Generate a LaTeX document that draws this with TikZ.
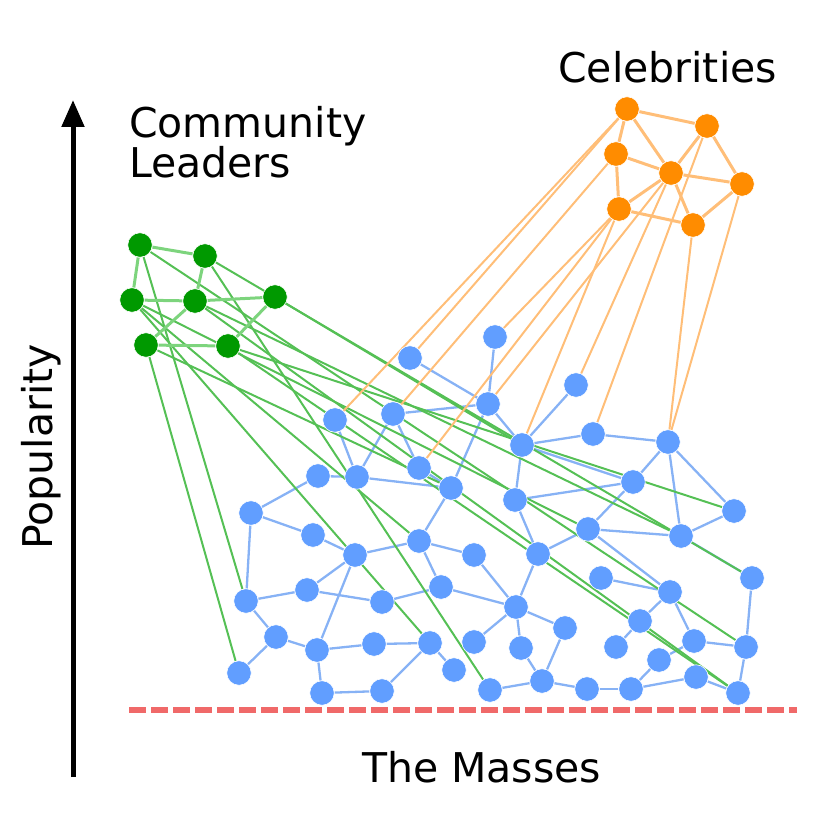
\documentclass[tikz,border=0pt]{standalone}
\usepackage{fontspec}
\setmainfont{DejaVu Sans}
\usetikzlibrary{arrows.meta}
\pgfdeclarelayer{edges}
\pgfsetlayers{edges,main}
\definecolor{nodeblue}{RGB}{97,158,255}
\definecolor{edgeblue}{RGB}{135,178,245}
\definecolor{nodegreen}{RGB}{0,153,0}
\definecolor{edgegreen}{RGB}{85,192,85}
\definecolor{edgegreenin}{RGB}{125,212,125}
\definecolor{nodeorange}{RGB}{255,140,0}
\definecolor{edgeorange}{RGB}{255,190,120}
\definecolor{masscolor}{RGB}{240,105,105}
\tikzset{
  dot/.style={circle, draw=white, line width=0.6pt, minimum size=24.5pt, inner sep=0pt},
  bnode/.style={dot, fill=nodeblue},
  gnode/.style={dot, fill=nodegreen},
  onode/.style={dot, fill=nodeorange},
  bedge/.style={draw=edgeblue, line width=2.3pt},
  gedge/.style={draw=edgegreen, line width=2pt},
  giedge/.style={draw=edgegreenin, line width=3pt},
  oedge/.style={draw=edgeorange, line width=2pt},
  oiedge/.style={draw=edgeorange, line width=3pt},
  label/.style={font=\fontsize{41}{36}\selectfont, inner sep=0pt},
  axis/.style={line width=5pt, -{Triangle[length=27pt,width=22pt]}},
  masses/.style={draw=masscolor, line width=5.5pt, dash pattern=on 17pt off 5pt}
}
\begin{document}
\begin{tikzpicture}[x=1pt,y=-1pt]
\useasboundingbox (0,0) rectangle (829,829);
% blue nodes
\foreach \n/\x/\y in {1/495/337,2/410/358,3/576/385,4/488/404,5/393/414,6/335/420,7/522/445,8/593/434,9/668/442,10/419/468,
11/318/476,12/357/477,13/451/488,14/515/500,15/633/482,16/734/511,17/251/513,18/313/535,19/588/529,20/681/536,
21/419/541,22/355/555,23/474/555,24/538/554,25/752/578,26/601/578,27/246/601,28/307/590,29/382/602,30/441/587,
31/516/607,32/670/592,33/640/621,34/565/628,35/276/637,36/317/650,37/374/644,38/430/643,39/474/642,40/521/648,
41/616/647,42/694/641,43/746/647,44/659/660,45/239/673,46/454/670,47/322/693,48/382/691,49/490/690,50/542/681,
51/587/689,52/631/689,53/696/677,54/738/693}
  \node[bnode] (b\n) at (\x,\y) {};
% green nodes
\foreach \n/\x/\y in {1/140/245,2/205/256,3/132/300,4/195/301,5/275/297,6/146/345,7/228/346}
  \node[gnode] (g\n) at (\x,\y) {};
% orange nodes
\foreach \n/\x/\y in {1/627/109,2/707/126,3/616/154,4/671/173,5/742/184,6/619/209,7/693/225}
  \node[onode] (o\n) at (\x,\y) {};
% axis, baseline
\coordinate (abot) at (73,777);
\coordinate (atop) at (73,100);
\draw[axis] (abot) -- (atop);
\coordinate (ml) at (129,710);
\coordinate (mr) at (797,710);
\draw[masses] (ml) -- (mr);
% labels
\node[label, anchor=base, rotate=90] (pop) at (52,447) {Popularity};
\node[label, anchor=base west] (cel) at (558,83) {Celebrities};
\node[label, anchor=base west] (mas) at (362,782) {The Masses};
\node[label, anchor=base west, align=left] (com) at (129,178) {Community\\Leaders};
\begin{pgfonlayer}{edges}
\foreach \a/\b in {1/4,2/4,5/4,4/7,4/13,3/7,7/8,8/9,7/15,7/14,9/15,9/20,9/16,14/15,14/24,15/19,19/20,20/16,19/24,19/32,
20/25,26/32,32/33,32/42,42/43,25/43,24/31,31/34,31/40,34/50,33/41,44/42,31/23,31/30,31/39,43/54,11/12,12/13,11/17,
17/18,17/27,18/22,22/21,21/13,21/23,22/28,22/36,27/28,28/29,29/30,21/30,27/35,6/12,5/12,5/10,10/13,35/45,35/36,
36/37,37/38,36/47,47/48,48/38,38/46,40/50,49/50,50/51,51/52,52/44,52/53,53/54}
  \draw[bedge] (b\a) -- (b\b);
\foreach \a/\b in {1/27,1/43,2/25,2/49,3/38,3/21,3/19,4/20,4/54,5/7,6/45,6/13,7/16,7/54}
  \draw[gedge] (g\a) -- (b\b);
\foreach \a/\b in {1/2,1/3,2/4,3/4,4/5,4/6,6/7,7/5}
  \draw[giedge] (g\a) -- (g\b);
\foreach \a/\b in {1/2,1/6,6/1,6/10,6/7,4/4,4/3,2/8,7/9,5/9,3/5}
  \draw[oedge] (o\a) -- (b\b);
\foreach \a/\b in {1/2,1/3,1/4,2/4,2/5,3/4,3/6,4/5,4/6,4/7,6/7,7/5}
  \draw[oiedge] (o\a) -- (o\b);
\end{pgfonlayer}
\end{tikzpicture}
\end{document}
